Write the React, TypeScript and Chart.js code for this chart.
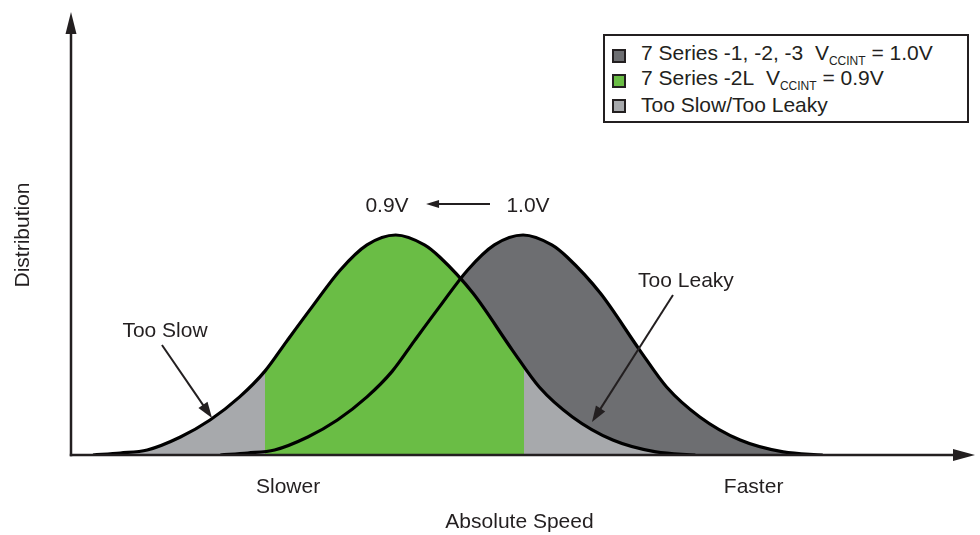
import { useEffect, useRef } from 'react';
import { Chart, registerables } from 'chart.js';

Chart.register(...registerables);

const FONT = "'Liberation Sans', Arial, Helvetica, sans-serif";
const INK = '#231f20';
const DARK_GRAY = '#6d6e71';
const GREEN = '#6abd45';
const LIGHT_GRAY = '#a7a9ac';

// 7 Series -2L, VCCINT = 0.9V (shifted to the slower side)
const speed09 = [2.45, 5.5, 8.5, 12.2, 15.5, 18.8, 21.6, 24.1, 27.0, 30.0, 33.0, 36.2, 39.4, 41.1, 44.8, 49.2, 52.2, 55.9, 60.4, 65.2, 69.6];
const dist09 = [0, 0.9, 2.3, 8.2, 15.9, 26.4, 38, 52, 68, 84, 95.5, 100, 95.5, 90, 73.6, 47.7, 30.9, 17.3, 6.8, 1.4, 0];

// 7 Series -1, -2, -3, VCCINT = 1.0V
const speed10 = [16.65, 19.7, 22.7, 26.4, 29.7, 33.0, 35.8, 38.3, 41.2, 44.2, 47.2, 50.4, 53.6, 55.3, 59.0, 63.4, 66.4, 70.1, 74.6, 79.4, 83.8];
const dist10 = [0, 0.9, 2.3, 8.2, 15.9, 26.4, 38, 52, 68, 84, 95.5, 100, 95.5, 90, 73.6, 47.7, 30.9, 17.3, 6.8, 1.4, 0];

// Speed limits: below = too slow, above = too leaky
const slowCutoff = 21.6;
const leakyCutoff = 50.5;

const tickValues = [24.2, 76.1];
const tickLabels = ['Slower', 'Faster'];

const legendEntries = [
  { color: DARK_GRAY, main: '7 Series -1, -2, -3\u00a0\u00a0V', sub: 'CCINT', tail: ' = 1.0V' },
  { color: GREEN, main: '7 Series -2L\u00a0\u00a0V', sub: 'CCINT', tail: ' = 0.9V' },
  { color: LIGHT_GRAY, main: 'Too Slow/Too Leaky', sub: '', tail: '' },
];

const noteTexts = [
  { text: 'Too Slow', x: 10.48, y: 53.6 },
  { text: 'Too Leaky', x: 68.56, y: 76.4 },
  { text: '0.9V', x: 35.23, y: 110.5 },
  { text: '1.0V', x: 50.95, y: 110.5 },
];

const noteArrows = [
  { x1: 10.14, y1: 50.0, x2: 15.72, y2: 16.8, head: 16, half: 5.5 },
  { x1: 67.11, y1: 72.7, x2: 58.08, y2: 15.0, head: 16, half: 5.5 },
  { x1: 46.71, y1: 114.1, x2: 39.58, y2: 114.1, head: 13, half: 4 },
];

function arrow(ctx: CanvasRenderingContext2D, x1: number, y1: number, x2: number, y2: number, head: number, half: number, width: number) {
  const dx = x2 - x1;
  const dy = y2 - y1;
  const len = Math.hypot(dx, dy);
  const ux = dx / len;
  const uy = dy / len;
  const bx = x2 - ux * head;
  const by = y2 - uy * head;
  ctx.lineWidth = width;
  ctx.beginPath();
  ctx.moveTo(x1, y1);
  ctx.lineTo(bx + ux * 1, by + uy * 1);
  ctx.stroke();
  ctx.beginPath();
  ctx.moveTo(x2, y2);
  ctx.lineTo(bx - uy * half, by + ux * half);
  ctx.lineTo(bx + uy * half, by - ux * half);
  ctx.closePath();
  ctx.fill();
}

const overlay = {
  id: 'overlay',
  afterDatasetsDraw(chart: any) {
    const { ctx, chartArea: a, scales } = chart;
    const xs = scales.x;
    const ys = scales.y;
    ctx.save();
    ctx.strokeStyle = INK;
    ctx.fillStyle = INK;
    // axes with arrow heads
    arrow(ctx, a.left, a.bottom + 1.2, a.left, a.top - 3, 22, 5.5, 2.5);
    arrow(ctx, a.left - 1.2, a.bottom, a.right + 7, a.bottom, 22, 6, 2.5);
    // annotation arrows
    noteArrows.forEach((n) => {
      arrow(ctx, xs.getPixelForValue(n.x1), ys.getPixelForValue(n.y1), xs.getPixelForValue(n.x2), ys.getPixelForValue(n.y2), n.head, n.half, 2);
    });
    ctx.font = `21px ${FONT}`;
    ctx.textAlign = 'center';
    ctx.textBaseline = 'alphabetic';
    noteTexts.forEach((t) => {
      ctx.fillText(t.text, xs.getPixelForValue(t.x), ys.getPixelForValue(t.y));
    });
    ctx.restore();
  },
};

function greenFill(context: any) {
  const chart = context.chart;
  const { chartArea, scales } = chart;
  if (!chartArea) return GREEN;
  const w = chartArea.right - chartArea.left;
  const f1 = (scales.x.getPixelForValue(slowCutoff) - chartArea.left) / w;
  const f2 = (scales.x.getPixelForValue(leakyCutoff) - chartArea.left) / w;
  const g = chart.ctx.createLinearGradient(chartArea.left, 0, chartArea.right, 0);
  g.addColorStop(0, LIGHT_GRAY);
  g.addColorStop(f1, LIGHT_GRAY);
  g.addColorStop(f1, GREEN);
  g.addColorStop(f2, GREEN);
  g.addColorStop(f2, LIGHT_GRAY);
  g.addColorStop(1, LIGHT_GRAY);
  return g;
}

export default function App() {
  const ref = useRef<HTMLCanvasElement | null>(null);

  useEffect(() => {
    if (!ref.current) return;
    const chart = new Chart(ref.current, {
      type: 'line',
      data: {
        datasets: [
          {
            label: '7 Series -2L VCCINT = 0.9V',
            data: speed09.map((s, i) => ({ x: s, y: dist09[i] })),
            borderColor: '#000',
            borderWidth: 3.2,
            pointRadius: 0,
            fill: 'origin',
            backgroundColor: greenFill,
            cubicInterpolationMode: 'monotone',
          },
          {
            label: '7 Series -1, -2, -3 VCCINT = 1.0V',
            data: speed10.map((s, i) => ({ x: s, y: dist10[i] })),
            borderColor: '#000',
            borderWidth: 3.2,
            pointRadius: 0,
            fill: 'origin',
            backgroundColor: DARK_GRAY,
            cubicInterpolationMode: 'monotone',
          },
        ],
      },
      options: {
        responsive: false,
        animation: false,
        devicePixelRatio: 1,
        layout: { padding: { top: 15, right: 12, left: 0, bottom: 0 } },
        plugins: {
          legend: { display: false },
          tooltip: { enabled: false },
          filler: { drawTime: 'beforeDatasetsDraw' },
        },
        scales: {
          x: {
            type: 'linear',
            min: 0,
            max: 100,
            grid: { display: false, drawTicks: false },
            border: { display: false },
            afterFit: (s: any) => { s.height = 80; },
            afterBuildTicks: (s: any) => { s.ticks = tickValues.map((v) => ({ value: v })); },
            ticks: {
              padding: 20,
              autoSkip: false,
              maxRotation: 0,
              color: INK,
              font: { family: FONT, size: 21 },
              callback: (_v: any, i: number) => tickLabels[i],
            },
            title: { display: true, text: 'Absolute Speed', color: INK, font: { family: FONT, size: 21 }, padding: { top: 0, bottom: 0 } },
          },
          y: {
            min: 0,
            max: 200,
            grid: { display: false, drawTicks: false },
            border: { display: false },
            ticks: { display: false },
            afterFit: (s: any) => { s.width = 71; },
            title: { display: true, text: 'Distribution', color: INK, font: { family: FONT, size: 21 }, padding: { top: 11, bottom: 0 } },
          },
        },
      } as any,
      plugins: [overlay],
    });
    return () => chart.destroy();
  }, []);

  return (
    <div style={{ position: 'fixed', left: 0, top: 0, width: 980, height: 535, background: '#fff' }}>
      <canvas ref={ref} width={980} height={535} style={{ display: 'block', width: 980, height: 535 }} />
      <div
        style={{
          position: 'absolute',
          left: 603,
          top: 34,
          width: 366,
          height: 89,
          boxSizing: 'border-box',
          border: `2px solid ${INK}`,
          background: '#fff',
          paddingTop: 6,
          paddingLeft: 7,
          fontFamily: FONT,
          fontSize: 21,
          color: INK,
        }}
      >
        {legendEntries.map((e) => (
          <div key={e.main} style={{ height: 25, lineHeight: '25px', display: 'flex', alignItems: 'center', whiteSpace: 'pre' }}>
            <span
              style={{
                display: 'inline-block',
                width: 14,
                height: 14,
                boxSizing: 'border-box',
                border: `2px solid ${INK}`,
                background: e.color,
                marginRight: 15,
                marginTop: 3,
                flex: 'none',
              }}
            />
            <span>
              {e.main}
              {e.sub ? <span style={{ fontSize: 12, position: 'relative', top: 5 }}>{e.sub}</span> : null}
              {e.tail}
            </span>
          </div>
        ))}
      </div>
    </div>
  );
}
